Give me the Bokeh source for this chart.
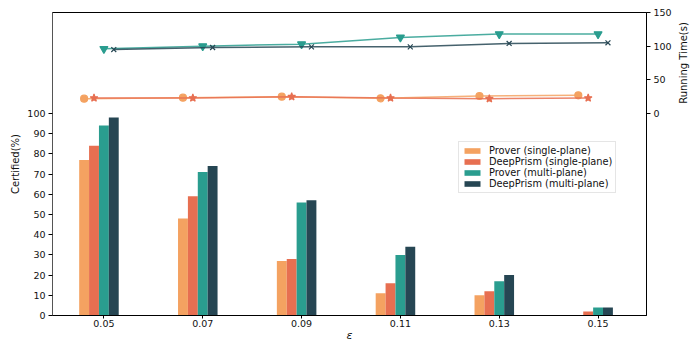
import math
from bokeh.plotting import figure
from bokeh.models import Range1d, LinearAxis, FixedTicker, Label, Legend, LegendItem, ColumnDataSource
from bokeh.transform import dodge
from bokeh.embed import file_html
from bokeh.resources import INLINE

eps_labels = ["0.05", "0.07", "0.09", "0.11", "0.13", "0.15"]
series_names = ["Prover (single-plane)", "DeepPrism (single-plane)",
                "Prover (multi-plane)", "DeepPrism (multi-plane)"]

cert_prover_single = [77, 48, 27, 11, 10, 0]
cert_deepprism_single = [84, 59, 28, 16, 12, 2]
cert_prover_multi = [94, 71, 56, 30, 17, 4]
cert_deepprism_multi = [98, 74, 57, 34, 20, 4]

time_prover_single = [22, 23.5, 25, 22.5, 26, 27]
time_deepprism_single = [23, 23, 25, 23, 22, 23]
time_prover_multi = [96, 100, 103, 113, 118, 118]
time_deepprism_multi = [95, 98, 99, 99, 104, 105]

colors = ["#F4A261", "#E76F51", "#2A9D8F", "#264653"]
markers = ["circle", "star", "inverted_triangle", "x"]
marker_sizes = [7, 8, 8, 7]
offsets = [-0.2, -0.1, 0.0, 0.1]
bar_w = 0.1

xs = list(range(len(eps_labels)))
src = ColumnDataSource(dict(
    x=xs,
    c0=cert_prover_single, c1=cert_deepprism_single,
    c2=cert_prover_multi, c3=cert_deepprism_multi,
    t0=time_prover_single, t1=time_deepprism_single,
    t2=time_prover_multi, t3=time_deepprism_multi,
))

FONT = "DejaVu Sans"
X0, X1 = -0.52, 5.49
p = figure(width=698, height=349, output_backend="svg", toolbar_location=None,
           x_range=Range1d(X0, X1), y_range=Range1d(0, 150),
           min_border_left=52, min_border_right=52, min_border_top=12, min_border_bottom=34)
p.extra_y_ranges = {"time": Range1d(-300, 150)}
p.xgrid.visible = False
p.ygrid.visible = False
p.outline_line_color = "#000000"
p.outline_line_width = 1
p.background_fill_color = "white"
p.border_fill_color = "white"

items = []
for i in range(4):
    r = p.vbar(x=dodge("x", offsets[i], range=p.x_range), top="c%d" % i, width=bar_w,
               bottom=0, source=src, fill_color=colors[i], line_color=None)
    items.append(LegendItem(label=series_names[i], renderers=[r]))

for i in range(4):
    p.line(x=dodge("x", offsets[i], range=p.x_range), y="t%d" % i, source=src,
           line_color=colors[i], line_width=1.5, line_alpha=0.85, y_range_name="time")
    p.scatter(x=dodge("x", offsets[i], range=p.x_range), y="t%d" % i, source=src,
              marker=markers[i], size=marker_sizes[i], fill_color=colors[i],
              line_color=colors[i], line_width=1.2, y_range_name="time")

def style_axis(ax):
    ax.major_label_text_font = FONT
    ax.major_label_text_font_size = "9.5px"
    ax.major_label_text_color = "#111111"
    ax.axis_label_text_font = FONT
    ax.axis_label_text_font_size = "10px"
    ax.axis_label_text_font_style = "normal"
    ax.axis_label_text_color = "#111111"
    ax.axis_line_color = "#000000"
    ax.major_tick_line_color = "#000000"
    ax.major_tick_in = 0
    ax.major_tick_out = 4
    ax.minor_tick_line_color = None
    ax.major_label_standoff = 3

xa = p.xaxis[0]
style_axis(xa)
xa.ticker = FixedTicker(ticks=xs)
xa.major_label_overrides = {i: s for i, s in enumerate(eps_labels)}
xa.major_tick_out = 3
xa.major_label_standoff = 1
xa.axis_label = "ε"
xa.axis_label_text_font_style = "italic"
xa.axis_label_text_font_size = "11px"
xa.axis_label_standoff = -1

ya = p.yaxis[0]
style_axis(ya)
ya.ticker = FixedTicker(ticks=list(range(0, 101, 10)))
ya.axis_label = "Certified(%)"
ya.axis_label_standoff = 3
ya.axis_line_color = "#555555"

ra = LinearAxis(y_range_name="time", ticker=FixedTicker(ticks=[0, 50, 100, 150]))
style_axis(ra)
p.add_layout(ra, "right")

# right axis title, placed beside the right axis in a side panel (not clipped to the frame)
px_per_unit = (698 - 52 - 52) / (X1 - X0)
label_x = X1 + (683 - 646) / px_per_unit
p.add_layout(Label(x=label_x, y=75, y_range_name="time",
                   text="Running Time(s)", angle=math.pi / 2, text_align="center",
                   text_baseline="middle", text_font=FONT, text_font_size="10px",
                   text_color="#111111"), "right")

legend = Legend(items=items, location=(406, 122))
legend.label_text_font = FONT
legend.label_text_font_size = "9.8px"
legend.label_text_color = "#111111"
legend.glyph_width = 20
legend.glyph_height = 7
legend.label_height = 8
legend.label_standoff = 7
legend.spacing = 0
legend.padding = 3
legend.margin = 0
legend.border_line_color = "#cccccc"
legend.border_line_width = 1
legend.background_fill_alpha = 0.8
p.add_layout(legend, "center")

open("out.html", "w").write(file_html(p, INLINE))
